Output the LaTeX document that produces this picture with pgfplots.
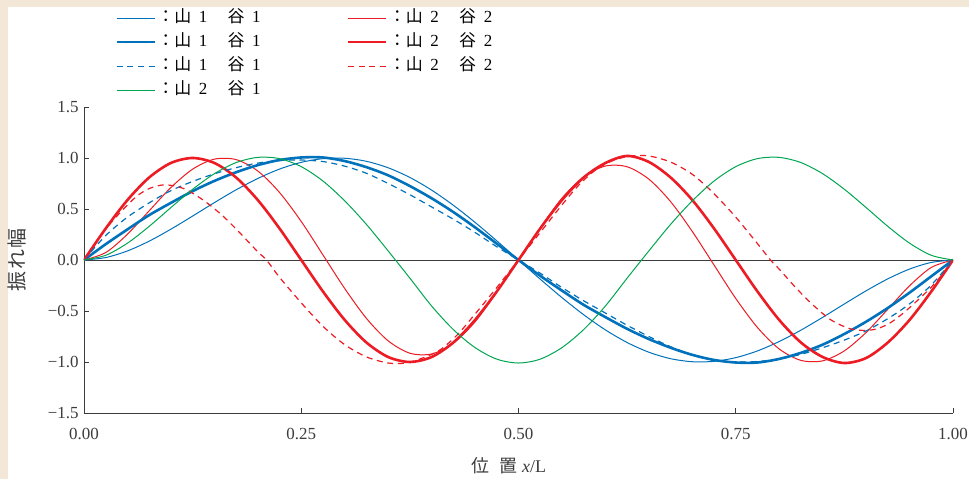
\documentclass[border=0pt]{standalone}
\usepackage{fontspec}
\setmainfont{Liberation Serif}
\newfontfamily\cjk{Noto Sans CJK JP}
\usepackage{pgfplots}
\pgfplotsset{compat=1.18}
\definecolor{cblue}{RGB}{0,114,188}
\definecolor{cred}{RGB}{237,28,36}
\definecolor{cgreen}{RGB}{0,166,81}
\definecolor{beige}{RGB}{243,232,215}
\definecolor{axgray}{RGB}{60,60,60}
\newcommand{\lab}[2]{{\cjk ：山}\hspace{0.45em}#1\hspace{1.2em}{\cjk 谷}\hspace{0.45em}#2}
\newcommand{\ent}[2]{\makebox[188bp][l]{\lab{#1}{#2}}}

\begin{document}
\begin{tikzpicture}[x=1bp,y=1bp]
\fill[beige] (-84,-66) rectangle (885,413);
\fill[white] (-76,-66) rectangle (885,406);
\begin{axis}[
  scale only axis, width=869bp, height=306bp,
  xmin=0, xmax=1, ymin=-1.5, ymax=1.5,
  axis x line=bottom, axis y line=left,
  axis line style={-, axgray, line width=0.8bp},
  tick align=inside, major tick length=5bp,
  tick style={axgray, line width=0.8bp},
  xtick={0,0.25,0.5,0.75,1}, xticklabels={0.00,0.25,0.50,0.75,1.00},
  ytick={-1.5,-1,-0.5,0,0.5,1,1.5},
  yticklabels={−1.5,−1.0,−0.5,0.0,0.5,1.0,1.5},
  ticklabel style={font=\fontsize{17}{19}\selectfont, text=axgray},
  xticklabel style={yshift=-12bp},
  yticklabel style={xshift=-2bp},
  legend columns=2,
  legend style={at={(0.0357,1.3219)}, anchor=north west, draw=none, fill=none,
    inner sep=0pt, row sep=5bp, font=\fontsize{17}{19}\selectfont,
    nodes={inner sep=1.5bp, text height=12bp, text depth=4bp, anchor=west}},
  legend cell align=left,
  legend image code/.code={\draw[#1] (0bp,0bp) -- (38bp,0bp);},
]
\addplot[axgray, line width=0.8bp, forget plot] coordinates {(0,0) (1,0)};

% thin blue
\addplot[cblue, line width=1bp, smooth] coordinates {
(0,0) (0.025,0.0239) (0.05,0.0888) (0.075,0.1848) (0.1,0.3021) (0.125,0.4308) (0.15,0.5622) (0.175,0.6877) (0.2,0.7994) (0.225,0.8913) (0.25,0.9573) (0.275,0.9935) (0.3,0.9974) (0.325,0.9675) (0.35,0.9041) (0.375,0.8091) (0.4,0.6853) (0.425,0.5367) (0.45,0.3687) (0.475,0.1877) (0.5,0)
(0.525,-0.1877) (0.55,-0.3687) (0.575,-0.5367) (0.6,-0.6853) (0.625,-0.8091) (0.65,-0.9041) (0.675,-0.9675) (0.7,-0.9974) (0.725,-0.9935) (0.75,-0.9573) (0.775,-0.8913) (0.8,-0.7994) (0.825,-0.6877) (0.85,-0.5622) (0.875,-0.4308) (0.9,-0.3021) (0.925,-0.1848) (0.95,-0.0888) (0.975,-0.0239) (1,0)};
\addlegendentry{\ent{1}{1}}

% thin red
\addplot[cred, line width=1bp, smooth] coordinates {
(0,0) (0.025,0.0729) (0.05,0.2527) (0.075,0.4821) (0.1,0.7105) (0.125,0.8905) (0.15,0.9886) (0.175,0.9843) (0.2,0.8724) (0.225,0.6620) (0.25,0.3772) (0.275,0.0495) (0.3,-0.2794) (0.325,-0.5723) (0.35,-0.7926) (0.375,-0.9139) (0.4,-0.9213) (0.425,-0.8154) (0.45,-0.6062) (0.475,-0.3146) (0.5,0)
(0.525,0.3146) (0.55,0.6062) (0.575,0.8154) (0.6,0.9213) (0.625,0.9139) (0.65,0.7926) (0.675,0.5723) (0.7,0.2794) (0.725,-0.0495) (0.75,-0.3772) (0.775,-0.6620) (0.8,-0.8724) (0.825,-0.9843) (0.85,-0.9886) (0.875,-0.8905) (0.9,-0.7105) (0.925,-0.4821) (0.95,-0.2527) (0.975,-0.0729) (1,0)};
\addlegendentry{\lab{2}{2}}

% thick blue
\addplot[cblue, line width=2.6bp, smooth] coordinates {
(0,0) (0.025,0.155) (0.05,0.30) (0.075,0.44) (0.1,0.56) (0.125,0.675) (0.15,0.775) (0.175,0.86) (0.2,0.93) (0.225,0.98) (0.25,1.005) (0.275,1.005) (0.3,0.97) (0.325,0.91) (0.35,0.83) (0.375,0.725) (0.4,0.605) (0.425,0.47) (0.45,0.32) (0.475,0.16) (0.5,0)
(0.525,-0.155) (0.55,-0.30) (0.575,-0.44) (0.6,-0.56) (0.625,-0.675) (0.65,-0.775) (0.675,-0.86) (0.7,-0.93) (0.725,-0.98) (0.75,-1.005) (0.775,-1.005) (0.8,-0.97) (0.825,-0.91) (0.85,-0.83) (0.875,-0.725) (0.9,-0.605) (0.925,-0.47) (0.95,-0.32) (0.975,-0.16) (1,0)};
\addlegendentry{\ent{1}{1}}

% thick red
\addplot[cred, line width=2.6bp, smooth] coordinates {
(0,0) (0.025,0.3090) (0.05,0.5878) (0.075,0.8090) (0.1,0.9511) (0.125,1) (0.15,0.9511) (0.175,0.8090) (0.2,0.5878) (0.225,0.3090) (0.25,0)
(0.275,-0.3090) (0.3,-0.5878) (0.325,-0.8090) (0.35,-0.9511) (0.375,-1) (0.4,-0.9511) (0.425,-0.8090) (0.45,-0.5878) (0.475,-0.3090) (0.5,0)
(0.525,0.3090) (0.55,0.5878) (0.575,0.8090) (0.6,0.9511) (0.625,1.02) (0.65,0.9611) (0.675,0.8090) (0.7,0.5878) (0.725,0.3090) (0.75,0)
(0.775,-0.3090) (0.8,-0.5878) (0.825,-0.8090) (0.85,-0.9511) (0.875,-1.01) (0.9,-0.9611) (0.925,-0.8090) (0.95,-0.5878) (0.975,-0.3090) (1,0)};
\addlegendentry{\lab{2}{2}}

% dashed blue
\addplot[cblue, line width=1.2bp, dash pattern=on 6bp off 4.67bp, smooth] coordinates {
(0,0) (0.025,0.24) (0.05,0.42) (0.075,0.56) (0.1,0.68) (0.125,0.77) (0.15,0.845) (0.175,0.905) (0.2,0.95) (0.225,0.975) (0.25,0.98) (0.275,0.965) (0.3,0.92) (0.325,0.85) (0.35,0.75) (0.375,0.64) (0.4,0.52) (0.425,0.40) (0.45,0.27) (0.475,0.13) (0.5,0)
(0.525,-0.13) (0.55,-0.27) (0.575,-0.40) (0.6,-0.52) (0.625,-0.64) (0.65,-0.75) (0.675,-0.85) (0.7,-0.93) (0.725,-0.98) (0.75,-1.0) (0.775,-0.995) (0.8,-0.97) (0.825,-0.925) (0.85,-0.86) (0.875,-0.785) (0.9,-0.695) (0.925,-0.575) (0.95,-0.43) (0.975,-0.245) (1,0)};
\addlegendentry{\ent{1}{1}}

% dashed red
\addplot[cred, line width=1.2bp, dash pattern=on 6bp off 4.67bp, smooth] coordinates {
(0,0) (0.02,0.25) (0.04,0.45) (0.06,0.62) (0.075,0.70) (0.09,0.735) (0.105,0.725) (0.12,0.68) (0.14,0.57) (0.16,0.43) (0.18,0.26) (0.2,0.08) (0.21,0.0) (0.225,-0.17) (0.25,-0.42) (0.275,-0.65) (0.3,-0.83) (0.325,-0.95) (0.35,-1.01) (0.37,-1.01) (0.39,-0.96) (0.41,-0.88) (0.43,-0.73) (0.45,-0.53) (0.475,-0.27) (0.5,0)
(0.525,0.27) (0.55,0.54) (0.57,0.74) (0.59,0.89) (0.61,0.98) (0.63,1.02) (0.65,1.02) (0.675,0.96) (0.7,0.84) (0.725,0.65) (0.75,0.42) (0.775,0.16) (0.79,0.0) (0.8,-0.09) (0.82,-0.28) (0.84,-0.45) (0.86,-0.59) (0.88,-0.67) (0.895,-0.69) (0.91,-0.68) (0.925,-0.63) (0.94,-0.54) (0.96,-0.39) (0.98,-0.22) (1,0)};
\addlegendentry{\lab{2}{2}}

% green
\addplot[cgreen, line width=1bp, smooth] coordinates {
(0,0) (0.025,0.0459) (0.05,0.1648) (0.075,0.3297) (0.1,0.514) (0.125,0.693) (0.15,0.846) (0.175,0.955) (0.2,1.006) (0.225,0.994) (0.25,0.915) (0.275,0.774) (0.3,0.580) (0.325,0.349) (0.35,0.0888) (0.375,-0.178) (0.4,-0.451) (0.425,-0.682) (0.45,-0.859) (0.475,-0.972) (0.5,-1.010)
(0.525,-0.972) (0.55,-0.859) (0.575,-0.682) (0.6,-0.451) (0.625,-0.178) (0.65,0.0888) (0.675,0.349) (0.7,0.580) (0.725,0.774) (0.75,0.915) (0.775,0.994) (0.8,1.006) (0.825,0.955) (0.85,0.846) (0.875,0.693) (0.9,0.514) (0.925,0.3297) (0.95,0.1648) (0.975,0.0459) (1,0)};
\addlegendentry{\ent{2}{1}}
\end{axis}
\node[rotate=90, font=\fontsize{20}{22}\selectfont\cjk, text=axgray] at (-67,153) {振\hspace{0.08em}れ\hspace{0.08em}幅};
\node[font=\fontsize{18}{20}\selectfont, text=axgray] at (425,-53) {{\cjk 位\hspace{0.55em}置}\hspace{0.25em}\textit{x}/L};
\pgfresetboundingbox
\useasboundingbox (-84,-66) rectangle (885,413);
\end{tikzpicture}
\end{document}
